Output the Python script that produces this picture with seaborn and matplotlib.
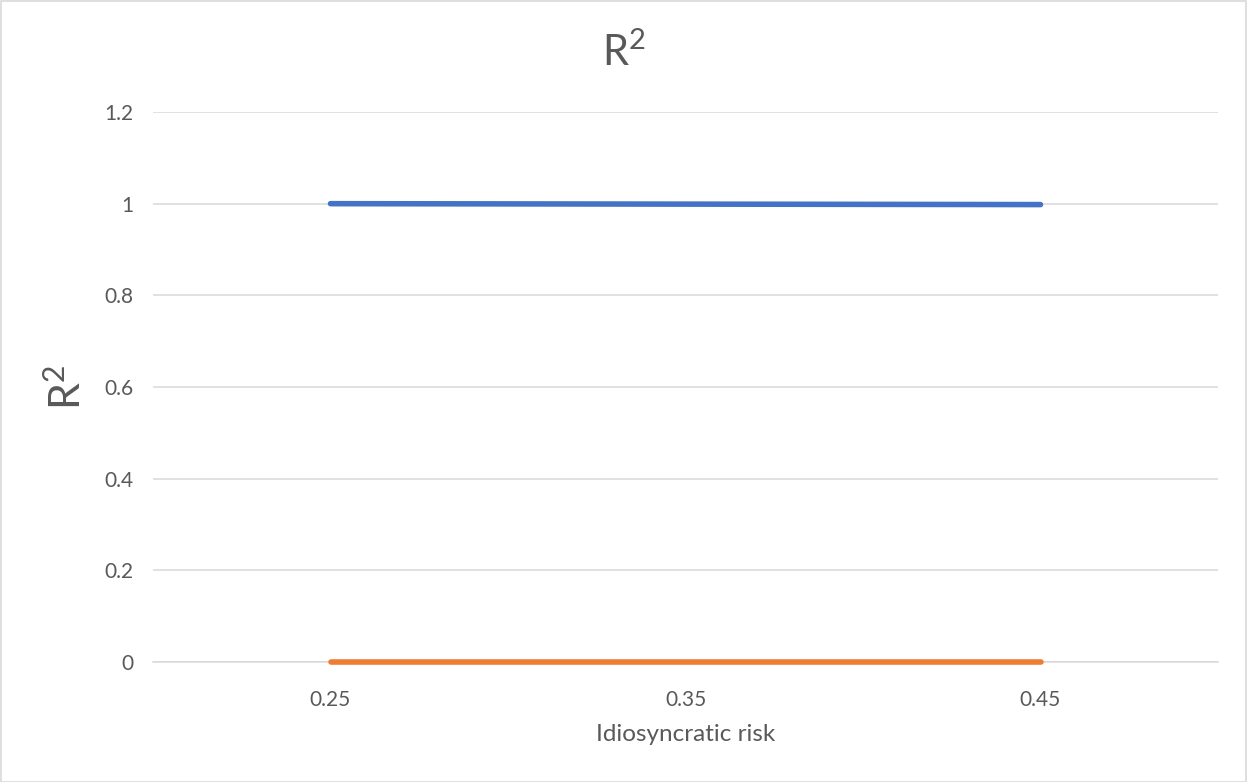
import matplotlib
matplotlib.use("Agg")
import matplotlib.pyplot as plt
import seaborn as sns
import pandas as pd
from matplotlib.patches import Rectangle

# Data
risk_levels = ["0.25", "0.35", "0.45"]
r2_systematic = [1.0, 0.999, 0.998]
r2_idiosyncratic = [0.0, 0.0, 0.0]
y_ticks = [0, 0.2, 0.4, 0.6, 0.8, 1.0, 1.2]
y_tick_labels = ["0", "0.2", "0.4", "0.6", "0.8", "1", "1.2"]

sns.set_theme(style="white")
plt.rcParams["font.family"] = ["Lato", "DejaVu Sans"]
plt.rcParams["mathtext.default"] = "regular"

text_color = "#595959"
grid_color = "#D9D9D9"

df = pd.DataFrame({
    "pos": list(range(len(risk_levels))) * 2,
    "value": r2_systematic + r2_idiosyncratic,
    "series": ["systematic"] * len(risk_levels) + ["idiosyncratic"] * len(risk_levels),
})

fig = plt.figure(figsize=(12.47, 7.82), dpi=100)
ax = fig.add_axes([153 / 1247, 1 - 662 / 782, (1218 - 153) / 1247, (662 - 112) / 782])

sns.lineplot(
    data=df, x="pos", y="value", hue="series",
    palette={"systematic": "#4472C4", "idiosyncratic": "#ED7D31"},
    linewidth=4.0, legend=False, ax=ax, zorder=3,
    solid_capstyle="round", clip_on=False,
)

ax.set_xlim(-0.5, len(risk_levels) - 0.5)
ax.set_ylim(0, 1.2)
ax.set_xticks(range(len(risk_levels)))
ax.set_xticklabels(risk_levels)
ax.set_yticks(y_ticks)
ax.set_yticklabels(y_tick_labels)
ax.tick_params(axis="both", length=0, labelsize=15, colors=text_color)
ax.tick_params(axis="y", pad=14)
ax.tick_params(axis="x", pad=20)

ax.grid(axis="y", color=grid_color, linewidth=1.1)
ax.grid(axis="x", visible=False)
for side in ["left", "right", "top"]:
    ax.spines[side].set_visible(False)
ax.spines["bottom"].set_color(grid_color)
ax.spines["bottom"].set_linewidth(1.1)
ax.set_axisbelow(True)

ax.set_xlabel("Idiosyncratic risk", fontsize=17.5, color=text_color, labelpad=10)
ax.set_ylabel("R$^{2}$", fontsize=31, color=text_color, labelpad=12)
fig.text(0.5, 1 - 52 / 782, "R$^{2}$", ha="center", va="center",
         fontsize=30, color=text_color)

# Chart-area border
fig.patches.append(Rectangle((0.5 / 1247, 0.5 / 782), 1 - 1.5 / 1247, 1 - 1.5 / 782,
                             transform=fig.transFigure, fill=False,
                             edgecolor="#D9D9D9", linewidth=1.2))

fig.savefig("out.png", dpi=100, facecolor="white")
